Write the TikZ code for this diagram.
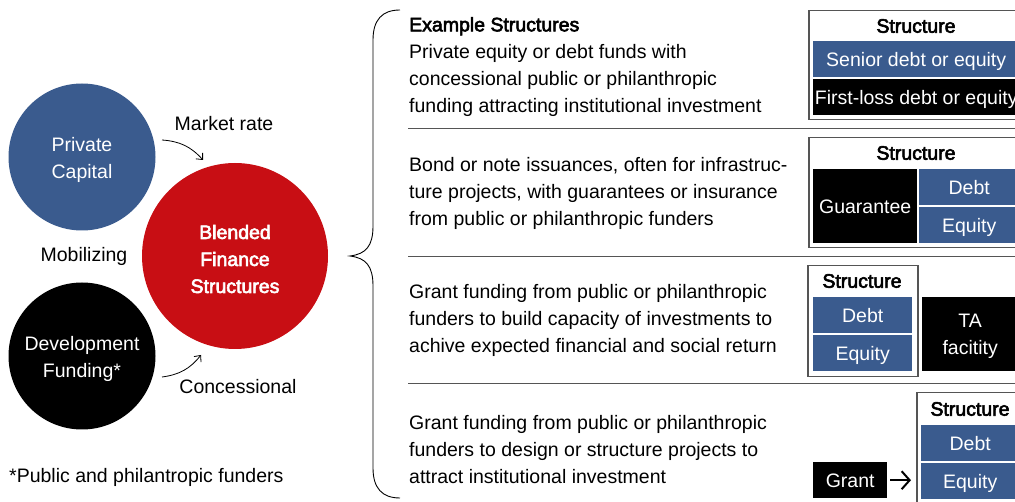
\documentclass[tikz,border=0pt]{standalone}
\usepackage{fontspec}
\setmainfont{Liberation Sans}
\newfontfamily\mediumfont[FakeBold=3]{Liberation Sans}
\usetikzlibrary{positioning,arrows.meta}
\definecolor{bfblue}{RGB}{58,91,142}
\definecolor{bfred}{RGB}{200,14,20}
\definecolor{bfline}{RGB}{85,85,85}

\tikzset{
  body/.style={font=\fontsize{19.5}{27}\selectfont, inner sep=0pt},
  para/.style={body, anchor=north west, align=left},
  disc/.style={circle, inner sep=0pt, minimum size=#1},
  disctext/.style={body, text=white, align=center},
  bar/.style={body, anchor=north west, minimum height=36pt, text height=17pt, text depth=2pt, text=white, fill=bfblue},
  darkbar/.style={bar, fill=black},
  framebox/.style={draw=bfline, line width=1.5pt, anchor=north west, inner sep=0pt},
  head/.style={body, font=\fontsize{19.5}{27}\selectfont\mediumfont},
  rule/.style={draw=bfline, line width=0.8pt},
  flow/.style={-{Straight Barb[length=5pt,width=9pt]}, line width=0.8pt},
}

\begin{document}
\begin{tikzpicture}[x=1pt,y=-1pt]
  \useasboundingbox (0,0) rectangle (1015,502);
  \clip (0,0) rectangle (1015,502);

  % left side: the three circles
  \node[disc=147pt, fill=bfblue] (private) at (82,157) {};
  \node[disc=186pt, fill=bfred] (blended) at (235,256) {};
  \node[disc=147pt, fill=black] (devfund) at (82,356) {};
  \node[disctext] (privatetxt) at ([yshift=-3pt]private.center) {Private\\Capital};
  \node[disctext, head] (blendedtxt) at ([yshift=-3pt]blended.center) {Blended\\Finance\\Structures};
  \node[disctext] (devfundtxt) at ([yshift=-3pt]devfund.center) {Development\\Funding*};

  \node[body] (mktrate) at (224,124) {Market rate};
  \node[body] (mobil) at (84,256) {Mobilizing};
  \node[body] (concess) at (238,387) {Concessional};

  \coordinate (mktA) at (162,140);
  \coordinate (mktB) at (203,160);
  \coordinate (conA) at (162,377);
  \coordinate (conB) at (201,355);
  \draw[flow] (mktA) to[bend left=22] (mktB);
  \draw[flow] (conA) to[bend right=22] (conB);

  \node[body, anchor=west] (footnote) at (9,477) {*Public and philantropic funders};

  % brace
  \draw[line width=0.9pt] (400,10) .. controls (382,10) and (373,20) .. (373,40)
    -- (373,226) .. controls (373,246) and (366,254) .. (350,256)
    .. controls (366,258) and (373,266) .. (373,286)
    -- (373,468) .. controls (373,488) and (382,498) .. (400,498);

  % example rows
  \node[para] (rowA) at (409,17) {{\mediumfont Example Structures}\\Private equity or debt funds with\\concessional public or philanthropic\\funding attracting institutional investment};
  \node[para] (rowB) at (409,157) {Bond or note issuances, often for infrastruc-\\ture projects, with guarantees or insurance\\from public or philanthropic funders};
  \node[para] (rowC) at (409,284) {Grant funding from public or philanthropic\\funders to build capacity of investments to\\achive expected financial and social return};
  \node[para] (rowD) at (409,415) {Grant funding from public or philanthropic\\funders to design or structure projects to\\attract institutional investment};

  \foreach \ypos in {128,256,383}
    \draw[rule] (408,\ypos) -- (1015,\ypos);

  % structure A
  \node[framebox, minimum width=216pt, minimum height=109pt] (frameA) at (808,10) {};
  \node[head] (headA) at (916,26) {Structure};
  \node[bar, minimum width=206pt] (seniorA) at (813,41) {Senior debt or equity};
  \node[darkbar, minimum width=206pt] (firstloss) at (813,79) {First-loss debt or equity};

  % structure B
  \node[framebox, minimum width=216pt, minimum height=110pt] (frameB) at (808,137) {};
  \node[head] (headB) at (916,153) {Structure};
  \node[darkbar, minimum width=104pt, minimum height=74pt] (guar) at (813,169) {Guarantee};
  \node[bar, minimum width=100pt] (debtB) at (919,169) {Debt};
  \node[bar, minimum width=100pt] (equityB) at (919,207) {Equity};

  % structure C
  \node[framebox, minimum width=110pt, minimum height=111pt] (frameC) at (807,265) {};
  \node[head] (headC) at (862,281) {Structure};
  \node[bar, minimum width=99pt] (debtC) at (813,297) {Debt};
  \node[bar, minimum width=99pt] (equityC) at (813,335) {Equity};
  \node[fill=black, anchor=north west, inner sep=0pt, minimum width=96pt, minimum height=74pt] (tafac) at (922,297) {};
  \node[disctext] (tafactxt) at ([yshift=-2pt]tafac.center) {TA\\facitity};

  % structure D
  \node[framebox, minimum width=108pt, minimum height=130pt] (frameD) at (916,392) {};
  \node[head] (headD) at (970,409) {Structure};
  \node[bar, minimum width=98pt] (debtD) at (921,425) {Debt};
  \node[bar, minimum width=98pt] (equityD) at (921,463) {Equity};
  \node[darkbar, minimum width=74pt] (grant) at (813,462) {Grant};
  \draw[-{Straight Barb[length=8pt,width=18pt]}, line width=2pt, shorten <=3pt, shorten >=5pt]
    (grant.east) -- (grant.east -| frameD.west);
\end{tikzpicture}
\end{document}
